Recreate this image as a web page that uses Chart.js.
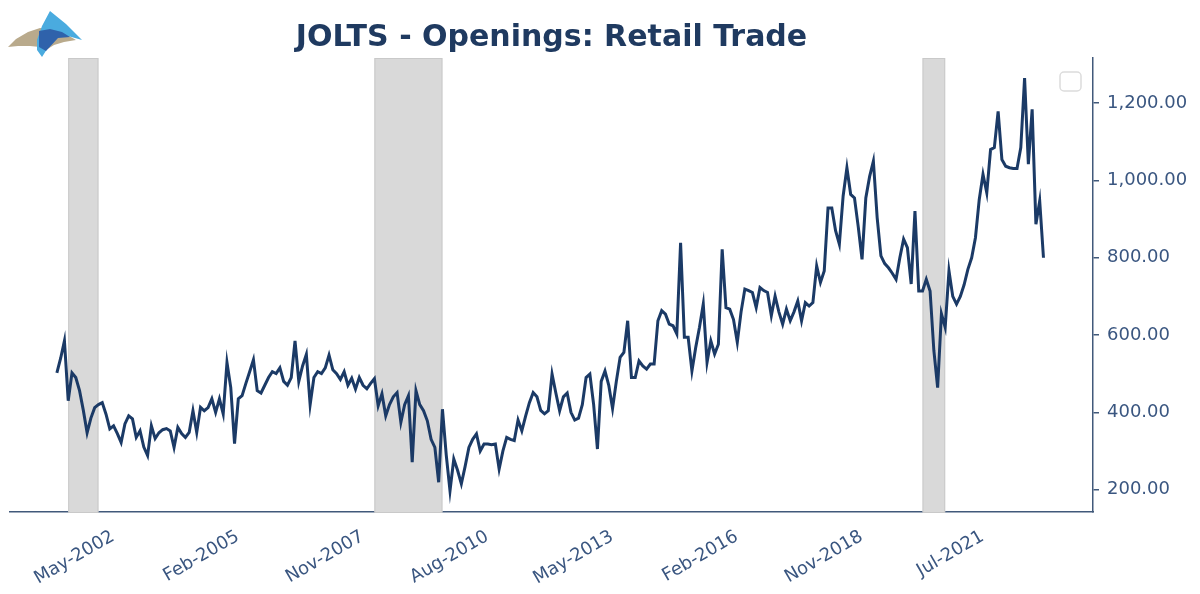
<!DOCTYPE html>
<html>
<head>
<meta charset="utf-8">
<script src="https://cdn.jsdelivr.net/npm/chart.js@4.4.1/dist/chart.umd.min.js"></script>
<style>
  html, body { margin: 0; padding: 0; background: #fff; }
  #wrap { width: 1200px; height: 594px; }
</style>
</head>
<body>
<div id="wrap"><canvas id="chart" width="1200" height="594"></canvas></div>
<script>
// monthly series, first point Dec-2000
const startYear = 2000;
const startMonth = 11;
const monthNames = ['Jan', 'Feb', 'Mar', 'Apr', 'May', 'Jun', 'Jul', 'Aug', 'Sep', 'Oct', 'Nov', 'Dec'];

// JOLTS job openings, retail trade (thousands)
const openings = [
  502, 540, 585, 430, 502, 490, 456, 405, 347, 385, 412, 420,
  425, 395, 357, 365, 345, 322, 370, 391, 383, 335, 352, 310,
  288, 365, 332, 347, 355, 358, 352, 309, 361, 345, 335, 348,
  404, 348, 413, 404, 412, 435, 400, 435, 396, 529, 464, 319,
  435, 443, 475, 505, 536, 456, 450, 470, 490, 505, 500, 515,
  480, 470, 490, 585, 480, 520, 550, 420, 490, 505, 500, 515,
  548, 510, 500, 485, 505, 470, 488, 460, 490, 470, 461, 475,
  487, 417, 448, 391, 420, 440, 451, 374, 420, 443, 271, 456,
  420, 404, 378, 330, 309, 219, 408, 290, 197, 279, 250, 215,
  260, 309, 330, 344, 300, 318, 318, 316, 318, 253, 300, 335,
  330, 327, 380, 352, 390, 425, 451, 440, 405, 396, 404, 499,
  450, 404, 440, 450, 400, 380, 385, 420, 490, 499, 420, 305,
  480, 507, 470, 410, 480, 542, 555, 637, 490, 490, 533, 520,
  512, 525, 525, 637, 663, 654, 628, 624, 603, 839, 594, 594,
  507, 568, 620, 680, 529, 585, 551, 576, 822, 671, 667, 640,
  581, 660, 719, 715, 710, 671, 723, 715, 710, 650, 701, 660,
  628, 667, 637, 660, 688, 637, 684, 675, 684, 779, 736, 766,
  929, 929, 870, 835, 960, 1033, 964, 955, 880, 796, 955, 1010,
  1050, 904, 805, 785, 774, 760, 744, 800, 848, 826, 732, 921,
  714, 714, 744, 714, 560, 464, 655, 620, 766, 700, 680, 700,
  730, 770, 800, 852, 950, 1016, 968, 1080, 1085, 1179, 1054, 1037,
  1033, 1031, 1031, 1085, 1265, 1042, 1184, 887, 947, 800
];

const months = openings.map((_, i) => {
  const m = startMonth + i;
  return monthNames[m % 12] + '-' + (startYear + Math.floor(m / 12));
});

const tickLabels = ['May-2002', 'Feb-2005', 'Nov-2007', 'Aug-2010', 'May-2013', 'Feb-2016', 'Nov-2018', 'Jul-2021'];
const yTicks = [200, 400, 600, 800, 1000, 1200];
const recessions = [['Mar-2001', 'Nov-2001'], ['Dec-2007', 'Jun-2009'], ['Jan-2020', 'Jul-2020']];

const navy = '#1b3a66';
const axisColor = '#41597a';
const labelColor = '#3a5680';
const font = { family: 'DejaVu Sans', size: 18 };

const bandsPlugin = {
  id: 'bands',
  beforeDatasetsDraw(chart) {
    const { ctx, chartArea, scales: { x } } = chart;
    ctx.save();
    recessions.forEach(([a, b]) => {
      const x0 = x.getPixelForValue(months.indexOf(a));
      const x1 = x.getPixelForValue(months.indexOf(b));
      ctx.fillStyle = '#d9d9d9';
      ctx.fillRect(x0, chartArea.top, x1 - x0, chartArea.bottom - chartArea.top);
      ctx.strokeStyle = '#c9c9c9';
      ctx.lineWidth = 1;
      ctx.strokeRect(x0 + 0.5, chartArea.top + 0.5, x1 - x0 - 1, chartArea.bottom - chartArea.top);
    });
    ctx.restore();
  }
};

const decorPlugin = {
  id: 'decor',
  afterDraw(chart) {
    const { ctx, chartArea } = chart;
    ctx.save();
    // title
    ctx.fillStyle = '#1f3a60';
    ctx.font = 'bold 30px "DejaVu Sans"';
    ctx.textAlign = 'center';
    ctx.textBaseline = 'alphabetic';
    ctx.fillText('JOLTS - Openings: Retail Trade', (chartArea.left + chartArea.right) / 2, 46);

    // logo
    const poly = (pts, color) => {
      ctx.beginPath();
      ctx.moveTo(pts[0][0], pts[0][1]);
      pts.slice(1).forEach(p => ctx.lineTo(p[0], p[1]));
      ctx.closePath();
      ctx.fillStyle = color;
      ctx.fill();
    };
    poly([[8, 47], [16, 39], [28, 32], [40, 28], [52, 29], [64, 33], [76, 40], [64, 42], [54, 45], [46, 50], [40, 47], [30, 46], [18, 46]], '#b9aa8c');
    poly([[50, 11], [66, 24], [82, 40], [68, 36], [56, 35], [42, 57], [37, 50], [37, 40], [42, 26]], '#4aabdf');
    poly([[39, 31], [50, 29], [62, 32], [70, 37], [58, 38], [46, 51], [39, 47]], '#2f62ab');

    // empty legend frame
    ctx.strokeStyle = '#dcdcdc';
    ctx.lineWidth = 1.5;
    ctx.beginPath();
    ctx.roundRect(1060, 72, 21, 19, 4);
    ctx.stroke();
    ctx.restore();
  }
};

new Chart(document.getElementById('chart'), {
  type: 'line',
  data: {
    datasets: [{
      data: openings.map((v, i) => ({ x: i, y: v })),
      borderColor: navy,
      borderWidth: 3,
      pointRadius: 0,
      tension: 0,
      fill: false
    }]
  },
  options: {
    responsive: false,
    animation: false,
    layout: { padding: { top: 58, left: 10, right: 0, bottom: 0 } },
    plugins: {
      legend: { display: false },
      tooltip: { enabled: false }
    },
    scales: {
      x: {
        type: 'linear',
        min: -12.4,
        max: 274.1,
        grid: { display: false },
        border: { color: axisColor, width: 1.5 },
        afterBuildTicks: s => { s.ticks = tickLabels.map(l => ({ value: months.indexOf(l) })); },
        afterFit: s => { s.height = 82; },
        ticks: {
          autoSkip: false,
          minRotation: 30,
          maxRotation: 30,
          color: labelColor,
          font: font,
          padding: 6,
          labelOffset: -8,
          callback: v => months[v]
        }
      },
      y: {
        position: 'right',
        min: 142,
        max: 1317,
        grid: { drawOnChartArea: false, color: axisColor, tickLength: 6, lineWidth: 1.5 },
        border: { color: axisColor, width: 1.5 },
        afterBuildTicks: s => { s.ticks = yTicks.map(v => ({ value: v })); },
        afterFit: s => { s.width = 107; },
        ticks: {
          color: labelColor,
          font: font,
          padding: 8,
          callback: v => v.toLocaleString('en-US', { minimumFractionDigits: 2, maximumFractionDigits: 2 })
        }
      }
    }
  },
  plugins: [bandsPlugin, decorPlugin]
});
</script>
</body>
</html>
